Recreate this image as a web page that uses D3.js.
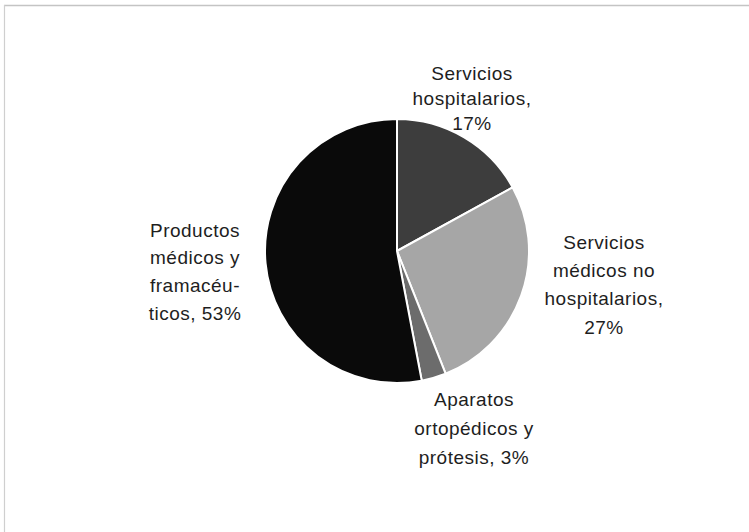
<!DOCTYPE html>
<html>
<head>
<meta charset="utf-8">
<script src="https://cdn.jsdelivr.net/npm/d3@7"></script>
<style>
  html, body { margin: 0; padding: 0; background: #fff; }
  svg { display: block; }
</style>
</head>
<body>
<svg id="chart" width="749" height="532"></svg>
<script>
const categories = [
  ["Servicios", "hospitalarios,", "17%"],
  ["Servicios", "médicos no", "hospitalarios,", "27%"],
  ["Aparatos", "ortopédicos y", "prótesis, 3%"],
  ["Productos", "médicos y", "framacéu-", "ticos, 53%"]
];
const values = [17, 27, 3, 53];
const colors = ["#3d3d3d", "#a6a6a6", "#6c6c6c", "#0a0a0a"];
// label anchor positions (center x, first line center y)
const labelPos = [[472, 73], [604, 242], [474, 399], [195, 230]];

const svg = d3.select("#chart");
const W = 749, H = 532;

// frame
svg.append("line").attr("x1", 4).attr("y1", 5.5).attr("x2", W).attr("y2", 5.5)
  .attr("stroke", "#c4c4c4").attr("stroke-width", 1.5);
svg.append("line").attr("x1", 4.5).attr("y1", 5).attr("x2", 4.5).attr("y2", H)
  .attr("stroke", "#cfcfcf").attr("stroke-width", 1.2);

const cx = 397, cy = 251, r = 132;
const pie = d3.pie().sort(null).value(d => d)(values);
const arc = d3.arc().innerRadius(0).outerRadius(r);

const g = svg.append("g").attr("transform", `translate(${cx},${cy})`);
g.selectAll("path").data(pie).enter().append("path")
  .attr("d", arc)
  .attr("fill", (d, i) => colors[i])
  .attr("stroke", "#ffffff")
  .attr("stroke-width", 2)
  .attr("stroke-linejoin", "round");

const lhs = [25, 28.3, 29, 27.7];
categories.forEach((lines, i) => {
  const t = svg.append("text")
    .attr("text-anchor", "middle")
    .attr("font-family", "'Liberation Sans', Arial, sans-serif")
    .attr("font-size", 19)
    .attr("letter-spacing", 0.5)
    .attr("fill", "#1e1e1e");
  lines.forEach((s, k) => {
    t.append("tspan")
      .attr("x", labelPos[i][0])
      .attr("y", labelPos[i][1] + k * lhs[i])
      .attr("dy", "0.35em")
      .text(s);
  });
});
</script>
</body>
</html>
